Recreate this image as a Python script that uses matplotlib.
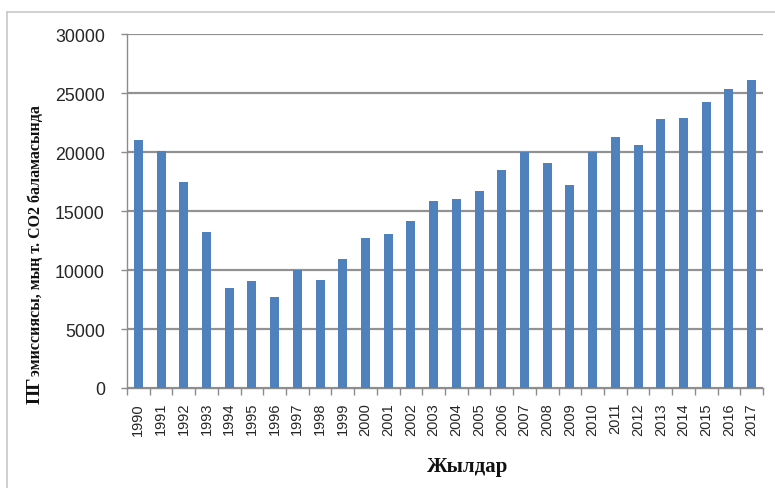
import matplotlib
matplotlib.use("Agg")
import matplotlib.pyplot as plt
from matplotlib.lines import Line2D
import numpy as np

years = [str(y) for y in range(1990, 2018)]
emissions = [21000, 20100, 17500, 13200, 8500, 9100, 7700, 10000, 9200, 10900,
             12700, 13100, 14200, 15900, 16000, 16700, 18500, 20000, 19100, 17200,
             20000, 21300, 20600, 22800, 22900, 24300, 25400, 26100]
y_ticks = [0, 5000, 10000, 15000, 20000, 25000, 30000]

W, H = 775, 489
fig = plt.figure(figsize=(W / 100, H / 100), dpi=100)
fig.patch.set_facecolor("white")

def px(x, y):
    return x / W, 1 - y / H

ax = fig.add_axes([127 / W, 1 - 389 / H, (763 - 127) / W, (389 - 35.3) / H])

x = np.arange(len(years))
ax.bar(x, emissions, width=0.4, color="#4F81BD", zorder=3)

ax.set_xlim(-0.5, len(years) - 0.5)
ax.set_ylim(0, 30000)
ax.set_yticks(y_ticks)
ax.set_yticklabels([str(v) for v in y_ticks], fontsize=12.8,
                   family="Liberation Sans", color="#262626")
ax.set_xticks(x)
ax.set_xticklabels(years, rotation=90, fontsize=10.5,
                   family="Liberation Sans", color="#262626")
ax.set_xticks(np.arange(-0.5, len(years)), minor=True)

ax.tick_params(axis="x", which="major", length=0, pad=10)
ax.tick_params(axis="x", which="minor", length=5, width=1, color="#8c8c8c",
               direction="out")
ax.tick_params(axis="y", which="major", length=4, width=1, color="#8c8c8c",
               direction="out", pad=12)

ax.grid(axis="y", color="#929292", linewidth=1.6, zorder=0)
for s in ["top", "right"]:
    ax.spines[s].set_visible(False)
for s in ["left", "bottom"]:
    ax.spines[s].set_color("#8c8c8c")
    ax.spines[s].set_linewidth(1)

# y-axis title: large "ПГ" followed by smaller remainder on the same baseline
fig.text(*px(40, 404), "ПГ", rotation=90, rotation_mode="anchor",
         ha="left", va="baseline", fontsize=14, fontweight="bold",
         family="Liberation Serif", color="#111111")
fig.text(*px(40, 376), "эмиссиясы, мың т. СО2 баламасында", rotation=90,
         rotation_mode="anchor", ha="left", va="baseline", fontsize=11.5,
         fontweight="bold", family="Liberation Serif", color="#111111")

# x-axis title
fig.text(*px(468, 472), "Жылдар", ha="center", va="baseline", fontsize=15,
         fontweight="bold", family="Liberation Serif", color="#111111")

# outer chart frame
fig.add_artist(Line2D([7 / W, 7 / W], [0, 1 - 13 / H], transform=fig.transFigure,
                      color="#c8c8c8", linewidth=1.2))
fig.add_artist(Line2D([7 / W, 1], [1 - 13 / H, 1 - 13 / H], transform=fig.transFigure,
                      color="#c8c8c8", linewidth=1.2))

fig.savefig("out.png", dpi=100)
